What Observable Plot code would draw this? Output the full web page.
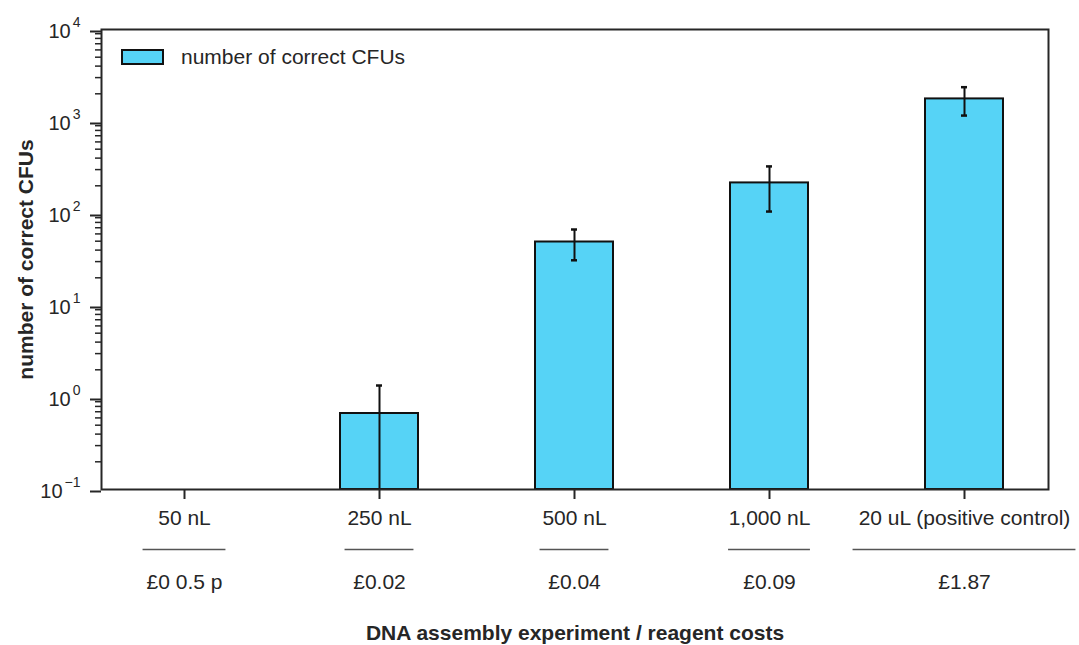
<!DOCTYPE html>
<html>
<head>
<meta charset="utf-8">
<script src="https://cdn.jsdelivr.net/npm/d3@7"></script>
<script src="https://cdn.jsdelivr.net/npm/@observablehq/plot@0.6"></script>
<style>
  html, body { margin: 0; padding: 0; background: #fff; }
  #wrap { position: relative; width: 1079px; height: 645px; font-family: "Liberation Sans", Arial, sans-serif; color: #262626; }
  #legend { position: absolute; left: 121px; top: 45px; display: flex; align-items: center; font-size: 21px; }
  #legend .sw { width: 39px; height: 12px; background: #56d3f6; border: 2px solid #111; margin-right: 17px; }
</style>
</head>
<body>
<div id="wrap"></div>
<script>
// ---- data ----
const categories = ["50 nL", "250 nL", "500 nL", "1,000 nL", "20 uL (positive control)"];
const costs = ["£0 0.5 p", "£0.02", "£0.04", "£0.09", "£1.87"];
const cfuMean = [0, 0.67, 49, 215, 1760];
const cfuSD = [0, 0.68, 18, 110, 600];
const yDecades = [0.1, 1, 10, 100, 1000, 10000];
const minorMultipliers = [2, 3, 4, 5, 6, 7, 8, 9];
const seriesName = "number of correct CFUs";
const yTitle = "number of correct CFUs";
const xTitle = "DNA assembly experiment / reagent costs";

// ---- layout (not data) ----
const sepWidths = [83, 69, 69, 82, 223];
const barFill = "#56d3f6";
const ink = "#262626";

const yMin = yDecades[0];
const rows = categories.map((c, i) => ({
  cat: c,
  cost: costs[i],
  mean: cfuMean[i],
  lo: Math.max(cfuMean[i] - cfuSD[i], yMin),
  hasLo: cfuMean[i] - cfuSD[i] > 0,
  hi: cfuMean[i] + cfuSD[i]
}));
const present = rows.filter(d => d.mean > 0);
const minorTicks = yDecades.slice(0, -1).flatMap(d => minorMultipliers.map(m => m * d));

const bandwidth = 947 * 0.4 / 4.85;
const sepMarks = rows.map((d, i) => Plot.tickY([d], {
  x: "cat", y: () => yMin, dy: 60,
  insetLeft: (bandwidth - sepWidths[i]) / 2,
  insetRight: (bandwidth - sepWidths[i]) / 2,
  stroke: "#555", strokeWidth: 1.5
}));

const chart = Plot.plot({
  width: 1079,
  height: 645,
  marginLeft: 101,
  marginRight: 31,
  marginTop: 29,
  marginBottom: 156,
  style: { fontFamily: '"Liberation Sans", Arial, sans-serif', fontSize: "21px", color: ink, background: "#fff" },
  x: { type: "band", domain: categories, paddingInner: 0.6, paddingOuter: 0.225, label: null },
  y: { type: "log", domain: [yDecades[0], yDecades[yDecades.length - 1]], label: null },
  marks: [
    Plot.barY(present, { x: "cat", y1: () => yMin, y2: "mean", fill: barFill, stroke: "#111", strokeWidth: 2 }),
    Plot.ruleX(present, { x: "cat", y1: "lo", y2: "hi", stroke: "#111", strokeWidth: 2 }),
    Plot.tickY(present, { x: "cat", y: "hi", inset: 36, stroke: "#111", strokeWidth: 2.5 }),
    Plot.tickY(present.filter(d => d.hasLo), { x: "cat", y: "lo", inset: 36, stroke: "#111", strokeWidth: 2.5 }),
    Plot.axisY({ ticks: minorTicks, tickSize: 6, tickFormat: () => "", stroke: ink, strokeWidth: 1.5 }),
    Plot.axisY({
      ticks: yDecades, tickSize: 11, tickPadding: 10, dy: 2, fontSize: 20,
      tickFormat: d => "10^" + String(Math.round(Math.log10(d))).replace("-", "−"),
      stroke: ink, strokeWidth: 2
    }),
    Plot.axisX({ tickSize: 10, tickPadding: 11, fontSize: 21, stroke: ink, strokeWidth: 2 }),
    ...sepMarks,
    Plot.text(rows, { x: "cat", text: "cost", frameAnchor: "bottom", dy: 99, fontSize: 21, fill: ink }),
    Plot.text([xTitle], { frameAnchor: "bottom", dy: 150, fontSize: 21, fontWeight: "bold", fill: ink }),
    Plot.text([yTitle], { frameAnchor: "left", textAnchor: "middle", dx: -75, rotate: -90, fontSize: 21, fontWeight: "bold", fill: ink }),
    Plot.frame({ stroke: ink, strokeWidth: 2 })
  ]
});

// superscript exponents on the y tick labels
const NS = "http://www.w3.org/2000/svg";
chart.querySelectorAll('g[aria-label="y-axis tick label"] text').forEach(t => {
  const s = t.textContent;
  if (s.includes("^")) {
    const [b, e] = s.split("^");
    t.textContent = b;
    const ts = document.createElementNS(NS, "tspan");
    ts.setAttribute("dy", "-11");
    ts.setAttribute("dx", "2");
    ts.setAttribute("font-size", "14");
    ts.textContent = e;
    t.appendChild(ts);
  }
});

const wrap = document.getElementById("wrap");
wrap.appendChild(chart);
const legend = document.createElement("div");
legend.id = "legend";
legend.innerHTML = '<span class="sw"></span><span></span>';
legend.lastChild.textContent = seriesName;
wrap.appendChild(legend);
</script>
</body>
</html>
